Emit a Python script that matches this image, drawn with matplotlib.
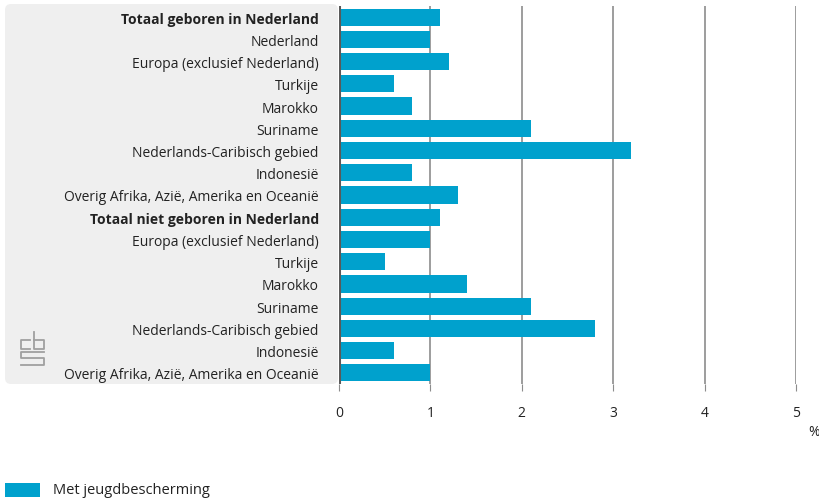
import matplotlib
matplotlib.use("Agg")
import matplotlib.pyplot as plt
from matplotlib.patches import FancyBboxPatch, Rectangle
from matplotlib.lines import Line2D

categories = [
    "Totaal geboren in Nederland", "Nederland", "Europa (exclusief Nederland)",
    "Turkije", "Marokko", "Suriname", "Nederlands-Caribisch gebied", "Indonesië",
    "Overig Afrika, Azië, Amerika en Oceanië",
    "Totaal niet geboren in Nederland", "Europa (exclusief Nederland)",
    "Turkije", "Marokko", "Suriname", "Nederlands-Caribisch gebied", "Indonesië",
    "Overig Afrika, Azië, Amerika en Oceanië",
]
values = [1.1, 1.0, 1.2, 0.6, 0.8, 2.1, 3.2, 0.8, 1.3,
          1.1, 1.0, 0.5, 1.4, 2.1, 2.8, 0.6, 1.0]
bold_rows = [0, 9]
xticks = [0, 1, 2, 3, 4, 5]
series_name = "Met jeugdbescherming"

plt.rcParams['font.family'] = ['Open Sans', 'DejaVu Sans']
W, H = 820, 502
fig = plt.figure(figsize=(W/100, H/100), dpi=100)

# grey panel (drawn in a background axes)
bg = fig.add_axes([0, 0, 1, 1], zorder=-5)
bg.set_axis_off()
bg.set_xlim(0, W)
bg.set_ylim(H, 0)
bg.add_patch(FancyBboxPatch((5, 5), 333, 380,
                            boxstyle="round,pad=0,rounding_size=6",
                            facecolor="#efefef", edgecolor="none"))
# approximate cbs logo
lc = "#a0a0a0"
def L(xs, ys):
    bg.add_line(Line2D(xs, ys, color=lc, lw=1.3))
L([30, 21, 21, 30], [341, 341, 350, 350])               # c
L([34, 34, 44, 44, 34], [333, 350, 350, 341, 341])       # b
L([44, 21, 21, 44, 44, 21], [353, 353, 359, 359, 366, 366])  # s

# legend
bg.add_patch(Rectangle((5, 484), 35, 14, facecolor="#00a1cd", edgecolor="none"))
bg.text(53, 491, series_name, ha="left", va="center", fontsize=10.5, color="#222222")
bg.text(820, 433, "%", ha="right", va="center", fontsize=10, color="#222222")

ax = fig.add_axes([339/W, 1 - 385/H, (796-339)/W, (385-7)/H], zorder=1)
ax.set_facecolor("none")
y = list(range(len(categories)))
ax.barh(y, values, height=0.77, color="#00a1cd", zorder=3)
ax.set_ylim(16.5, -0.5)
ax.set_xlim(0, 5)
for x in xticks[1:]:
    ax.axvline(x, color="#8c8c8c", lw=1.2, zorder=1)
ax.axvline(0, color="#5a5a5a", lw=2.2, zorder=4)
for s in ax.spines.values():
    s.set_visible(False)
ax.set_xticks(xticks)
ax.set_xticklabels([str(t) for t in xticks], fontsize=10, color="#222222")
ax.tick_params(axis="x", length=5, color="#8c8c8c", pad=10)
ax.set_yticks(y)
ax.set_yticklabels(categories, fontsize=10, color="#222222")
ax.tick_params(axis="y", length=0, pad=14.5)
for i, lab in enumerate(ax.get_yticklabels()):
    if i in bold_rows:
        lab.set_fontweight("bold")

fig.savefig("out.png", dpi=100)
